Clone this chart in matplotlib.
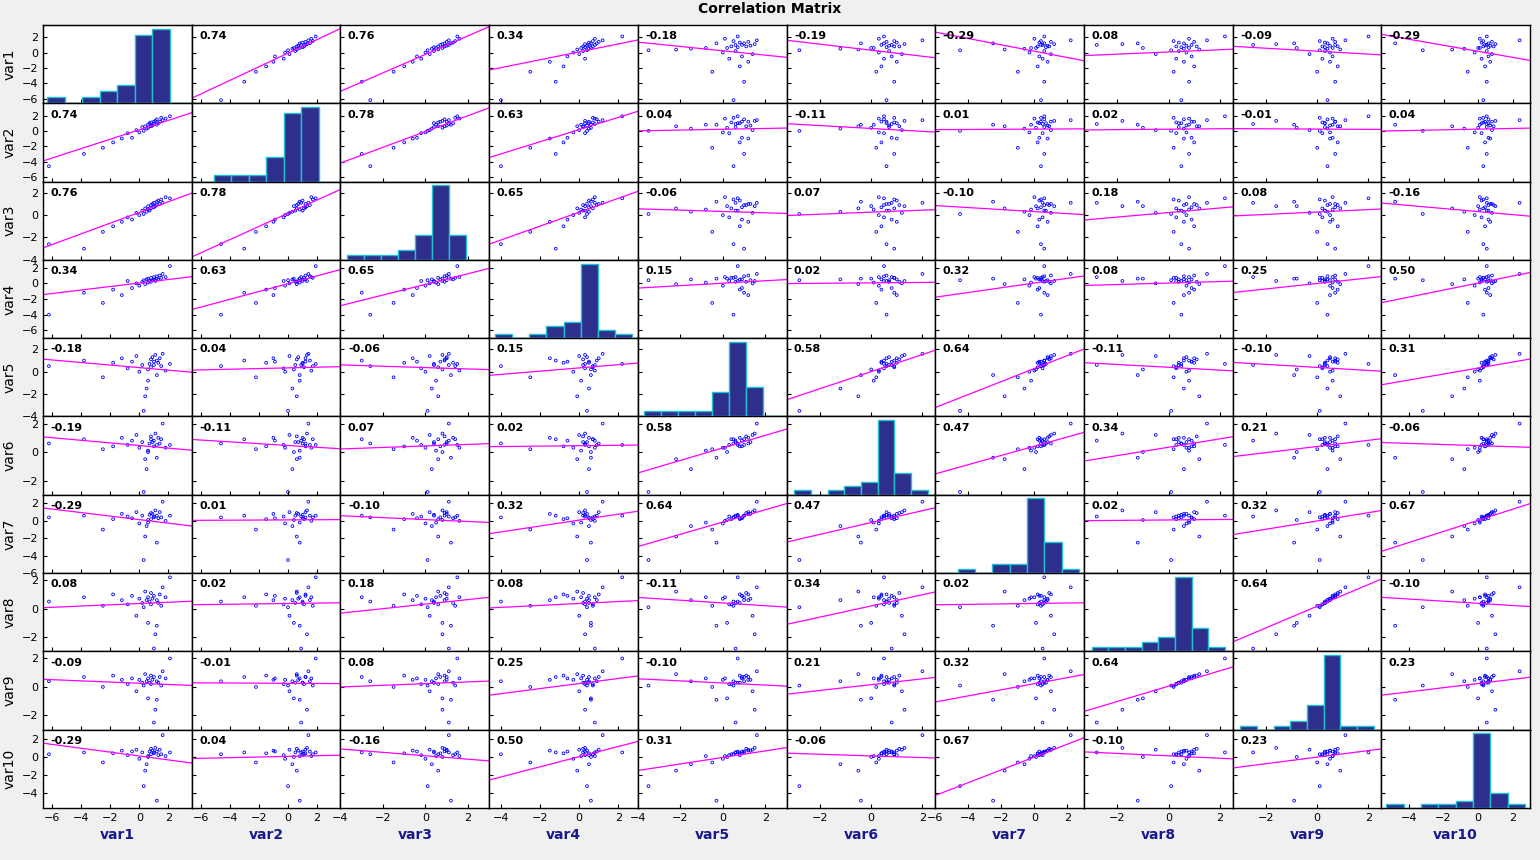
import numpy as np
import matplotlib
matplotlib.use("Agg")
import matplotlib.pyplot as plt

names = [f"var{i}" for i in range(1, 11)]

var1 = [-6.2, -3.8, -2.5, -1.8, -1.2, -0.8, -0.5, -0.2, 0.0, 0.2, 0.3, 0.4, 0.5, 0.6, 0.6,
        0.7, 0.8, 0.8, 0.9, 1.0, 1.0, 1.1, 1.2, 1.2, 1.3, 1.4, 1.5, 1.6, 1.8, 2.1]
var2 = [-4.6, -3.0, -2.2, -1.5, -1.0, -0.3, -0.9, 0.1, -0.2, 0.5, 0.0, 0.6, 0.3, 0.8, 0.4,
        1.0, 0.6, 1.1, 0.7, 1.2, 0.9, 1.3, 0.8, 1.5, 1.0, 1.2, 1.7, 1.4, 1.6, 1.9]
var3 = [-2.6, -3.0, -1.5, -1.0, -0.6, -0.2, -0.4, 0.2, 0.0, 0.4, 0.1, 0.6, 0.3, 0.5, 0.8,
        0.4, 0.9, 0.6, 1.0, 0.7, 1.1, 0.8, 1.2, 0.9, 1.3, 1.0, 1.4, 1.1, 1.6, 1.5]
var4 = [-4.0, -1.2, -2.5, -0.8, -1.5, 0.3, -0.6, 0.0, -0.3, 0.2, 0.4, -0.1, 0.5, 0.1, 0.6,
        0.3, 0.2, 0.7, 0.4, 0.5, 0.8, 0.3, 0.6, 0.9, 0.5, 1.0, 0.7, 1.2, 0.8, 2.2]
var5 = [0.5, 1.0, -0.5, 0.8, 1.2, 0.3, 0.9, 1.4, 0.0, 0.6, -3.5, -2.2, -1.5, -0.8, 0.2,
        0.7, 1.1, 0.4, 1.3, 0.9, 0.6, 1.5, -0.3, 1.0, 0.8, 1.2, 0.5, 1.6, 0.1, 0.7]
var6 = [0.6, 0.9, 0.2, 0.4, 1.0, 0.5, 0.8, 1.2, 0.3, 0.7, -2.8, -0.5, -1.2, 0.1, 0.0,
        0.6, 1.1, 0.9, 0.7, 0.4, 0.8, 1.3, -0.4, 0.5, 1.0, 0.6, 0.9, 2.0, 0.3, 0.5]
var7 = [0.4, 0.6, -1.0, 0.2, 0.8, 0.5, 0.3, 1.0, -0.3, 0.6, -4.5, -1.8, -0.6, -0.2, 0.1,
        0.7, 0.9, 0.2, 0.8, 0.4, 0.5, 1.2, -2.5, 0.6, 0.3, 1.0, 0.4, 2.2, 0.0, 0.6]
var8 = [0.5, 0.8, 0.2, 1.0, 0.6, 0.3, 0.9, -0.5, 0.7, 0.4, 0.1, 1.2, 0.6, 0.8, -1.0,
        0.5, 1.1, 0.3, 0.7, 0.9, -2.8, -1.8, -1.2, 0.6, 0.4, 1.0, 0.2, 1.5, 0.8, 2.2]
var9 = [0.4, 0.7, 0.0, 0.8, 0.5, 0.2, 0.6, -0.3, 0.5, 0.3, 0.1, 0.9, 0.4, 0.6, -0.8,
        0.3, 0.8, 0.2, 0.5, 0.7, -2.5, -1.6, -0.9, 0.4, 0.3, 0.7, 0.1, 1.1, 0.6, 2.0]
var10 = [0.3, 0.5, -0.6, 0.4, 0.7, 0.2, 0.6, 0.8, -0.2, 0.5, -3.2, -1.5, -0.8, 0.1, 0.0,
         0.6, 0.9, 0.3, 0.7, 0.4, 0.5, 1.0, -4.8, 0.6, 0.2, 0.8, 0.3, 2.4, 0.1, 0.5]
data = [np.array(v) for v in (var1, var2, var3, var4, var5, var6, var7, var8, var9, var10)]

# upper triangle of correlation coefficients, read row by row
r_upper = [
    [0.74, 0.76, 0.34, -0.18, -0.19, -0.29, 0.08, -0.09, -0.29],
    [0.78, 0.63, 0.04, -0.11, 0.01, 0.02, -0.01, 0.04],
    [0.65, -0.06, 0.07, -0.10, 0.18, 0.08, -0.16],
    [0.15, 0.02, 0.32, 0.08, 0.25, 0.50],
    [0.58, 0.64, -0.11, -0.10, 0.31],
    [0.47, 0.34, 0.21, -0.06],
    [0.02, 0.32, 0.67],
    [0.64, -0.10],
    [0.23],
]
R = np.eye(10)
for i, row in enumerate(r_upper):
    for k, v in enumerate(row):
        R[i, i + 1 + k] = R[i + 1 + k, i] = v

xlims = [(-6.6, 3.6), (-6.6, 3.6), (-4, 3), (-4.6, 3), (-4, 3),
         (-3.3, 2.5), (-6, 3), (-3.3, 2.5), (-3.3, 2.5), (-5.6, 3)]
ylims = [(-6.6, 3.6), (-6.6, 3.6), (-4, 3), (-7, 3), (-4, 3),
         (-3, 2.5), (-6, 3), (-3, 2.5), (-3, 2.5), (-5.6, 3)]

fig, axes = plt.subplots(10, 10, figsize=(15.4, 8.6), dpi=100)
fig.patch.set_facecolor("#f0f0f0")
fig.subplots_adjust(left=0.028, right=0.9935, top=0.971, bottom=0.0605,
                    wspace=0, hspace=0)
fig.suptitle("Correlation Matrix", fontsize=10, fontweight="bold", y=0.998)

for i in range(10):        # row -> y variable
    for j in range(10):    # column -> x variable
        ax = axes[i, j]
        ax.set_xlim(xlims[j])
        ax.set_ylim(ylims[i])
        ax.tick_params(direction="in", labelsize=8, length=3)
        for s in ax.spines.values():
            s.set_linewidth(1.0)
        if i == j:
            h = ax.twinx()
            lo, hi = xlims[j]
            h.hist(data[j], bins=np.linspace(lo + 0.3, hi - 0.3, 9),
                   color="#2e2e8c", edgecolor="#20c0d0", linewidth=1)
            h.set_xlim(xlims[j])
            h.set_yticks([])
        else:
            x, y = data[j], data[i]
            ax.scatter(x, y, s=4, facecolors="none", edgecolors="blue", linewidths=0.6)
            slope = R[i, j] * y.std() / x.std()
            xx = np.array(xlims[j])
            ax.plot(xx, y.mean() + slope * (xx - x.mean()), color="magenta", lw=0.9)
            ax.text(0.05, 0.92, f"{R[i, j]:.2f}", transform=ax.transAxes,
                    fontsize=8, fontweight="bold", va="top")
        if j == 0:
            ax.set_ylabel(names[i], fontsize=10)
        else:
            ax.set_yticklabels([])
        if i == 9:
            ax.set_xlabel(names[j], fontsize=10, fontweight="bold", color="#1a1a8c")
        else:
            ax.set_xticklabels([])
        ax.xaxis.set_major_locator(matplotlib.ticker.MultipleLocator(2))
        ax.yaxis.set_major_locator(matplotlib.ticker.MultipleLocator(2))

fig.savefig("out.png", dpi=100, facecolor=fig.get_facecolor())
